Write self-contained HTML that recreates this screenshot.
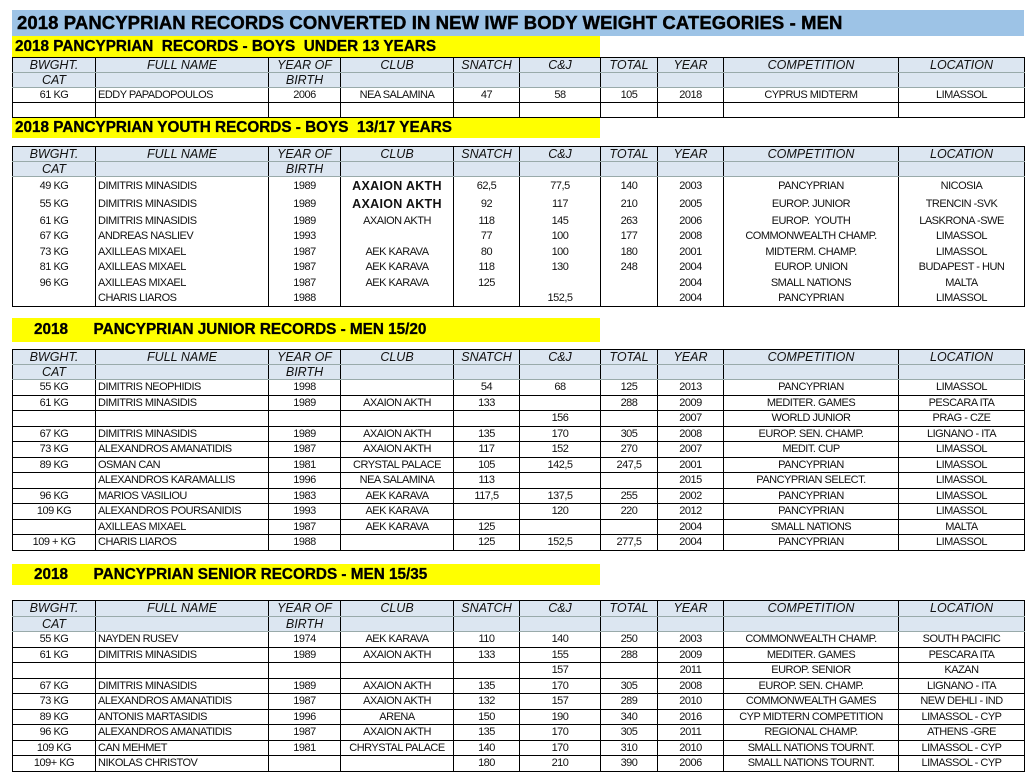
<!DOCTYPE html>
<html><head><meta charset="utf-8"><style>
body{margin:0;width:1036px;height:783px;background:#fff;position:relative;overflow:hidden;font-family:"Liberation Sans",Arial,sans-serif;}
.title{position:absolute;left:12px;top:10px;width:1012px;height:26px;background:#9dc3e6;font-weight:bold;font-size:18.5px;line-height:26px;padding-left:5px;box-sizing:border-box;color:#000;letter-spacing:0.1px;-webkit-text-stroke:0.4px #000}
.yb{position:absolute;left:12px;width:588px;background:#ffff00;font-weight:bold;font-size:15.3px;color:#000;box-sizing:border-box;-webkit-text-stroke:0.3px #000}
table{position:absolute;left:12px;border-collapse:collapse;table-layout:fixed;width:1012px}
td{border:1px solid #000;padding:0;text-align:center;white-space:nowrap;overflow:hidden;font-size:11px;letter-spacing:-0.5px;color:#111}
tr.h td{background:#dce6f1;font-style:italic;font-size:12.5px;letter-spacing:0;border-top:1px solid #9aa;border-bottom:1px solid #9aa;border-left:1px solid #000;border-right:1px solid #000}
tr.h:first-child td{border-top:1px solid #000}
td.l{text-align:left;padding-left:2px}
.nr td{border-top:none;border-bottom:none}
.nr tr:last-child td{border-bottom:1px solid #000}
.bb{font-weight:bold;font-size:12.5px!important;letter-spacing:0.3px!important}
</style></head><body>
<div class="title">2018 PANCYPRIAN RECORDS CONVERTED IN NEW IWF BODY WEIGHT CATEGORIES - MEN</div>
<div class="yb" style="top:36px;height:21px;line-height:21px;padding-left:3px">2018 PANCYPRIAN&nbsp; RECORDS - BOYS&nbsp; UNDER 13 YEARS</div>
<table style="top:57px">
<colgroup><col style="width:83px"><col style="width:173px"><col style="width:72px"><col style="width:113px"><col style="width:66px"><col style="width:81px"><col style="width:57px"><col style="width:66px"><col style="width:175px"><col style="width:126px"></colgroup>
<tr class="h" style="height:15px"><td>BWGHT.</td><td>FULL NAME</td><td>YEAR OF</td><td>CLUB</td><td>SNATCH</td><td>C&amp;J</td><td>TOTAL</td><td>YEAR</td><td>COMPETITION</td><td>LOCATION</td></tr>
<tr class="h" style="height:15px"><td>CAT</td><td></td><td>BIRTH</td><td></td><td></td><td></td><td></td><td></td><td></td><td></td></tr>
<tr style="height:15px"><td>61 KG</td><td class="l">EDDY PAPADOPOULOS</td><td>2006</td><td>NEA SALAMINA</td><td>47</td><td>58</td><td>105</td><td>2018</td><td>CYPRUS MIDTERM</td><td>LIMASSOL</td></tr>
<tr style="height:15px"><td></td><td></td><td></td><td></td><td></td><td></td><td></td><td></td><td></td><td></td></tr>
</table>
<div class="yb" style="top:118px;height:20px;line-height:20px;padding-left:3px">2018 PANCYPRIAN YOUTH RECORDS - BOYS&nbsp; 13/17 YEARS</div>
<table style="top:146px" class="nr">
<colgroup><col style="width:83px"><col style="width:173px"><col style="width:72px"><col style="width:113px"><col style="width:66px"><col style="width:81px"><col style="width:57px"><col style="width:66px"><col style="width:175px"><col style="width:126px"></colgroup>
<tr class="h" style="height:15px"><td>BWGHT.</td><td>FULL NAME</td><td>YEAR OF</td><td>CLUB</td><td>SNATCH</td><td>C&amp;J</td><td>TOTAL</td><td>YEAR</td><td>COMPETITION</td><td>LOCATION</td></tr>
<tr class="h" style="height:15px"><td>CAT</td><td></td><td>BIRTH</td><td></td><td></td><td></td><td></td><td></td><td></td><td></td></tr>
<tr style="height:18px"><td>49 KG</td><td class="l">DIMITRIS MINASIDIS</td><td>1989</td><td class="bb">AXAION AKTH</td><td>62,5</td><td>77,5</td><td>140</td><td>2003</td><td>PANCYPRIAN</td><td>NICOSIA</td></tr>
<tr style="height:18px"><td>55 KG</td><td class="l">DIMITRIS MINASIDIS</td><td>1989</td><td class="bb">AXAION AKTH</td><td>92</td><td>117</td><td>210</td><td>2005</td><td>EUROP. JUNIOR</td><td>TRENCIN -SVK</td></tr>
<tr style="height:16px"><td>61 KG</td><td class="l">DIMITRIS MINASIDIS</td><td>1989</td><td>AXAION AKTH</td><td>118</td><td>145</td><td>263</td><td>2006</td><td>EUROP.&nbsp; YOUTH</td><td>LASKRONA -SWE</td></tr>
<tr style="height:15.5px"><td>67 KG</td><td class="l">ANDREAS NASLIEV</td><td>1993</td><td></td><td>77</td><td>100</td><td>177</td><td>2008</td><td>COMMONWEALTH CHAMP.</td><td>LIMASSOL</td></tr>
<tr style="height:15.5px"><td>73 KG</td><td class="l">AXILLEAS MIXAEL</td><td>1987</td><td>AEK KARAVA</td><td>80</td><td>100</td><td>180</td><td>2001</td><td>MIDTERM. CHAMP.</td><td>LIMASSOL</td></tr>
<tr style="height:15.5px"><td>81 KG</td><td class="l">AXILLEAS MIXAEL</td><td>1987</td><td>AEK KARAVA</td><td>118</td><td>130</td><td>248</td><td>2004</td><td>EUROP. UNION</td><td>BUDAPEST - HUN</td></tr>
<tr style="height:15.5px"><td>96 KG</td><td class="l">AXILLEAS MIXAEL</td><td>1987</td><td>AEK KARAVA</td><td>125</td><td></td><td></td><td>2004</td><td>SMALL NATIONS</td><td>MALTA</td></tr>
<tr style="height:15.5px"><td></td><td class="l">CHARIS LIAROS</td><td>1988</td><td></td><td></td><td>152,5</td><td></td><td>2004</td><td>PANCYPRIAN</td><td>LIMASSOL</td></tr>
</table>
<div class="yb" style="top:318px;height:24px;line-height:24px;padding-left:22px">2018&nbsp;&nbsp;&nbsp;&nbsp;&nbsp; PANCYPRIAN JUNIOR RECORDS - MEN 15/20</div>
<table style="top:349px">
<colgroup><col style="width:83px"><col style="width:173px"><col style="width:72px"><col style="width:113px"><col style="width:66px"><col style="width:81px"><col style="width:57px"><col style="width:66px"><col style="width:175px"><col style="width:126px"></colgroup>
<tr class="h" style="height:15px"><td>BWGHT.</td><td>FULL NAME</td><td>YEAR OF</td><td>CLUB</td><td>SNATCH</td><td>C&amp;J</td><td>TOTAL</td><td>YEAR</td><td>COMPETITION</td><td>LOCATION</td></tr>
<tr class="h" style="height:15px"><td>CAT</td><td></td><td>BIRTH</td><td></td><td></td><td></td><td></td><td></td><td></td><td></td></tr>
<tr style="height:15.5px"><td>55 KG</td><td class="l">DIMITRIS NEOPHIDIS</td><td>1998</td><td></td><td>54</td><td>68</td><td>125</td><td>2013</td><td>PANCYPRIAN</td><td>LIMASSOL</td></tr>
<tr style="height:15.5px"><td>61 KG</td><td class="l">DIMITRIS MINASIDIS</td><td>1989</td><td>AXAION AKTH</td><td>133</td><td></td><td>288</td><td>2009</td><td>MEDITER. GAMES</td><td>PESCARA ITA</td></tr>
<tr style="height:15.5px"><td></td><td></td><td></td><td></td><td></td><td>156</td><td></td><td>2007</td><td>WORLD JUNIOR</td><td>PRAG - CZE</td></tr>
<tr style="height:15.5px"><td>67 KG</td><td class="l">DIMITRIS MINASIDIS</td><td>1989</td><td>AXAION AKTH</td><td>135</td><td>170</td><td>305</td><td>2008</td><td>EUROP. SEN. CHAMP.</td><td>LIGNANO - ITA</td></tr>
<tr style="height:15.5px"><td>73 KG</td><td class="l">ALEXANDROS AMANATIDIS</td><td>1987</td><td>AXAION AKTH</td><td>117</td><td>152</td><td>270</td><td>2007</td><td>MEDIT. CUP</td><td>LIMASSOL</td></tr>
<tr style="height:15.5px"><td>89 KG</td><td class="l">OSMAN CAN</td><td>1981</td><td>CRYSTAL PALACE</td><td>105</td><td>142,5</td><td>247,5</td><td>2001</td><td>PANCYPRIAN</td><td>LIMASSOL</td></tr>
<tr style="height:15.5px"><td></td><td class="l">ALEXANDROS KARAMALLIS</td><td>1996</td><td>NEA SALAMINA</td><td>113</td><td></td><td></td><td>2015</td><td>PANCYPRIAN SELECT.</td><td>LIMASSOL</td></tr>
<tr style="height:15.5px"><td>96 KG</td><td class="l">MARIOS VASILIOU</td><td>1983</td><td>AEK KARAVA</td><td>117,5</td><td>137,5</td><td>255</td><td>2002</td><td>PANCYPRIAN</td><td>LIMASSOL</td></tr>
<tr style="height:15.5px"><td>109 KG</td><td class="l">ALEXANDROS POURSANIDIS</td><td>1993</td><td>AEK KARAVA</td><td></td><td>120</td><td>220</td><td>2012</td><td>PANCYPRIAN</td><td>LIMASSOL</td></tr>
<tr style="height:15.5px"><td></td><td class="l">AXILLEAS MIXAEL</td><td>1987</td><td>AEK KARAVA</td><td>125</td><td></td><td></td><td>2004</td><td>SMALL NATIONS</td><td>MALTA</td></tr>
<tr style="height:15.5px"><td>109 + KG</td><td class="l">CHARIS LIAROS</td><td>1988</td><td></td><td>125</td><td>152,5</td><td>277,5</td><td>2004</td><td>PANCYPRIAN</td><td>LIMASSOL</td></tr>
</table>
<div class="yb" style="top:564px;height:21px;line-height:21px;padding-left:22px">2018&nbsp;&nbsp;&nbsp;&nbsp;&nbsp; PANCYPRIAN SENIOR RECORDS - MEN 15/35</div>
<table style="top:600px">
<colgroup><col style="width:83px"><col style="width:173px"><col style="width:72px"><col style="width:113px"><col style="width:66px"><col style="width:81px"><col style="width:57px"><col style="width:66px"><col style="width:175px"><col style="width:126px"></colgroup>
<tr class="h" style="height:15.5px"><td>BWGHT.</td><td>FULL NAME</td><td>YEAR OF</td><td>CLUB</td><td>SNATCH</td><td>C&amp;J</td><td>TOTAL</td><td>YEAR</td><td>COMPETITION</td><td>LOCATION</td></tr>
<tr class="h" style="height:15.5px"><td>CAT</td><td></td><td>BIRTH</td><td></td><td></td><td></td><td></td><td></td><td></td><td></td></tr>
<tr style="height:15.5px"><td>55 KG</td><td class="l">NAYDEN RUSEV</td><td>1974</td><td>AEK KARAVA</td><td>110</td><td>140</td><td>250</td><td>2003</td><td>COMMONWEALTH CHAMP.</td><td>SOUTH PACIFIC</td></tr>
<tr style="height:15.5px"><td>61 KG</td><td class="l">DIMITRIS MINASIDIS</td><td>1989</td><td>AXAION AKTH</td><td>133</td><td>155</td><td>288</td><td>2009</td><td>MEDITER. GAMES</td><td>PESCARA ITA</td></tr>
<tr style="height:15.5px"><td></td><td></td><td></td><td></td><td></td><td>157</td><td></td><td>2011</td><td>EUROP. SENIOR</td><td>KAZAN</td></tr>
<tr style="height:15.5px"><td>67 KG</td><td class="l">DIMITRIS MINASIDIS</td><td>1989</td><td>AXAION AKTH</td><td>135</td><td>170</td><td>305</td><td>2008</td><td>EUROP. SEN. CHAMP.</td><td>LIGNANO - ITA</td></tr>
<tr style="height:15.5px"><td>73 KG</td><td class="l">ALEXANDROS AMANATIDIS</td><td>1987</td><td>AXAION AKTH</td><td>132</td><td>157</td><td>289</td><td>2010</td><td>COMMONWEALTH GAMES</td><td>NEW DEHLI - IND</td></tr>
<tr style="height:15.5px"><td>89 KG</td><td class="l">ANTONIS MARTASIDIS</td><td>1996</td><td>ARENA</td><td>150</td><td>190</td><td>340</td><td>2016</td><td>CYP MIDTERN COMPETITION</td><td>LIMASSOL - CYP</td></tr>
<tr style="height:15.5px"><td>96 KG</td><td class="l">ALEXANDROS AMANATIDIS</td><td>1987</td><td>AXAION AKTH</td><td>135</td><td>170</td><td>305</td><td>2011</td><td>REGIONAL CHAMP.</td><td>ATHENS -GRE</td></tr>
<tr style="height:15.5px"><td>109 KG</td><td class="l">CAN MEHMET</td><td>1981</td><td>CHRYSTAL PALACE</td><td>140</td><td>170</td><td>310</td><td>2010</td><td>SMALL NATIONS TOURNT.</td><td>LIMASSOL - CYP</td></tr>
<tr style="height:15.5px"><td>109+ KG</td><td class="l">NIKOLAS CHRISTOV</td><td></td><td></td><td>180</td><td>210</td><td>390</td><td>2006</td><td>SMALL NATIONS TOURNT.</td><td>LIMASSOL - CYP</td></tr>
</table>
</body></html>
